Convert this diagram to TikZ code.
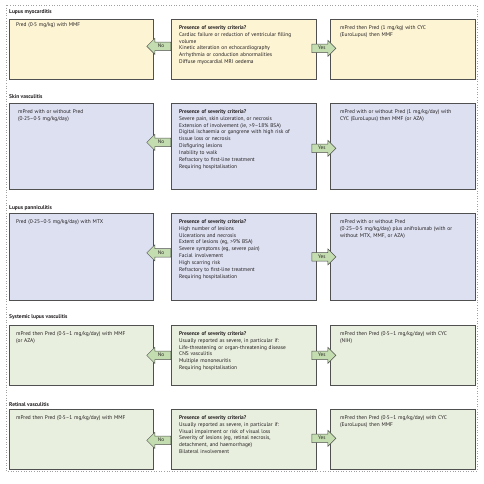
\documentclass[tikz,border=0pt]{standalone}
\usepackage{fontspec}
\setmainfont{PT Sans}
\usetikzlibrary{shapes.arrows,calc}
\definecolor{cyellow}{HTML}{FDF4D4}
\definecolor{clav}{HTML}{DDE0F1}
\definecolor{cgreen}{HTML}{E9EFDF}
\definecolor{carrow}{HTML}{C4DDB0}
\definecolor{cborder}{HTML}{505050}
\definecolor{ctext}{HTML}{231F20}
\definecolor{cframe}{HTML}{A0A0A0}
\begin{document}
\begin{tikzpicture}[x=1pt,y=-1pt,
  box/.style={draw=cborder, line width=0.7pt, minimum width=#1, anchor=north west, inner sep=0pt},
  txt/.style={anchor=north west, inner sep=0pt, align=left, text width=143pt, text=ctext,
    font=\fontsize{5.4}{6.9}\selectfont},
  ttl/.style={anchor=base west, inner sep=0pt, text=ctext, font=\fontsize{5.5}{6.9}\selectfont\bfseries},
  arr/.style={single arrow, draw=cborder, fill=carrow, line width=0.5pt, minimum height=24pt,
    minimum width=16pt, single arrow head extend=3.5pt, inner sep=1.3pt, text=ctext,
    text height=3.9pt, text depth=1.2pt, font=\fontsize{5.2}{6}\selectfont, anchor=tail},
  noarr/.style={arr, shape border rotate=180},
  yesarr/.style={arr}]
\useasboundingbox (0,0) rectangle (484,483);
\draw[cframe, dotted, line width=0.6pt] (6,5) rectangle (477,471);

% ---- Section 1
\node[ttl] (t1) at (9,13) {Lupus myocarditis};
\node[box=144pt, fill=cyellow, minimum height=60pt] (L1) at (9,19) {};
\node[box=145pt, fill=cyellow, minimum height=60pt] (M1) at (171,19) {};
\node[box=145pt, fill=cyellow, minimum height=60pt] (R1) at (330,19) {};
\node[txt] (lt1) at ([shift={(7,2.5)}]L1.north west) {\strut Pred (0·5 mg/kg) with MMF};
\node[txt] (mt1) at ([shift={(8,5.2)}]M1.north west) {\strut\textbf{Presence of severity criteria?}\\
Cardiac failure or reduction of ventricular filling\\ volume\\ Kinetic alteration on echocardiography\\
Arrhythmia or conduction abnormalities\\ Diffuse myocardial MRI oedema};
\node[txt] (rt1) at ([shift={(10,5.2)}]R1.north west) {\strut mPred then Pred (1 mg/kg) with CYC\\ (EuroLupus) then MMF};
\node[noarr] (n1) at ([yshift=3pt]M1.west) {No};
\node[yesarr] (y1) at ([xshift=-5pt,yshift=1pt]M1.east) {Yes};

% ---- Section 2
\node[ttl] (t2) at (9,98) {Skin vasculitis};
\node[box=144pt, fill=clav, minimum height=86pt] (L2) at (9,103) {};
\node[box=145pt, fill=clav, minimum height=86pt] (M2) at (171,103) {};
\node[box=145pt, fill=clav, minimum height=86pt] (R2) at (330,103) {};
\node[txt] (lt2) at ([shift={(9,5.2)}]L2.north west) {\strut mPred with or without Pred\\ (0·25–0·5 mg/kg/day)};
\node[txt] (mt2) at ([shift={(8,5.2)}]M2.north west) {\strut\textbf{Presence of severity criteria?}\\
Severe pain, skin ulceration, or necrosis\\ Extension of involvement (ie, >9–18\% BSA)\\
Digital ischaemia or gangrene with high risk of\\ tissue loss or necrosis\\ Disfiguring lesions\\
Inability to walk\\ Refractory to first-line treatment\\ Requiring hospitalisation};
\node[txt] (rt2) at ([shift={(10,5.2)}]R2.north west) {\strut mPred with or without Pred (1 mg/kg/day) with\\ CYC (EuroLupus) then MMF (or AZA)};
\node[noarr] (n2) at ([yshift=4pt]M2.west) {No};
\node[yesarr] (y2) at ([xshift=-5pt,yshift=-2pt]M2.east) {Yes};

% ---- Section 3
\node[ttl] (t3) at (9,209) {Lupus panniculitis};
\node[box=144pt, fill=clav, minimum height=87pt] (L3) at (9,213) {};
\node[box=145pt, fill=clav, minimum height=87pt] (M3) at (171,213) {};
\node[box=145pt, fill=clav, minimum height=87pt] (R3) at (330,213) {};
\node[txt] (lt3) at ([shift={(7,5.2)}]L3.north west) {\strut Pred (0·25–0·5 mg/kg/day) with MTX};
\node[txt] (mt3) at ([shift={(8,5.2)}]M3.north west) {\strut\textbf{Presence of severity criteria?}\\
High number of lesions\\ Ulcerations and necrosis\\ Extent of lesions (eg, >9\% BSA)\\
Severe symptoms (eg, severe pain)\\ Facial involvement\\ High scarring risk\\
Refractory to first-line treatment\\ Requiring hospitalisation};
\node[txt] (rt3) at ([shift={(10,5.2)}]R3.north west) {\strut mPred with or without Pred\\ (0·25–0·5 mg/kg/day) plus anifrolumab (with or\\ without MTX, MMF, or AZA)};
\node[noarr] (n3) at ([yshift=4pt]M3.west) {No};
\node[yesarr] (y3) at ([xshift=-5pt]M3.east) {Yes};

% ---- Section 4
\node[ttl] (t4) at (9,318) {Systemic lupus vasculitis};
\node[box=144pt, fill=cgreen, minimum height=60pt] (L4) at (9,325) {};
\node[box=145pt, fill=cgreen, minimum height=60pt] (M4) at (171,325) {};
\node[box=145pt, fill=cgreen, minimum height=60pt] (R4) at (330,325) {};
\node[txt] (lt4) at ([shift={(7,5.2)}]L4.north west) {\strut mPred then Pred (0·5–1 mg/kg/day) with MMF\\ (or AZA)};
\node[txt] (mt4) at ([shift={(8,5.2)}]M4.north west) {\strut\textbf{Presence of severity criteria?}\\
Usually reported as severe, in particular if:\\ Life-threatening or organ-threatening disease\\
CNS vasculitis\\ Multiple mononeuritis\\ Requiring hospitalisation};
\node[txt] (rt4) at ([shift={(10,5.2)}]R4.north west) {\strut mPred then Pred (0·5–1 mg/kg/day) with CYC\\ (NIH)};
\node[noarr] (n4) at (M4.west) {No};
\node[yesarr] (y4) at ([xshift=-5pt]M4.east) {Yes};

% ---- Section 5
\node[ttl] (t5) at (9,406) {Retinal vasculitis};
\node[box=144pt, fill=cgreen, minimum height=60pt] (L5) at (9,409) {};
\node[box=145pt, fill=cgreen, minimum height=60pt] (M5) at (171,409) {};
\node[box=145pt, fill=cgreen, minimum height=60pt] (R5) at (330,409) {};
\node[txt] (lt5) at ([shift={(7,5.2)}]L5.north west) {\strut mPred then Pred (0·5–1 mg/kg/day) with MMF};
\node[txt] (mt5) at ([shift={(8,5.2)}]M5.north west) {\strut\textbf{Presence of severity criteria?}\\
Usually reported as severe, in particular if:\\ Visual impairment or risk of visual loss\\
Severity of lesions (eg, retinal necrosis,\\ detachment, and haemorrhage)\\ Bilateral involvement};
\node[txt] (rt5) at ([shift={(10,5.2)}]R5.north west) {\strut mPred then Pred (0·5–1 mg/kg/day) with CYC\\ (EuroLupus) then MMF};
\node[noarr] (n5) at ([yshift=-1pt]M5.west) {No};
\node[yesarr] (y5) at ([xshift=-5pt,yshift=1pt]M5.east) {Yes};
\end{tikzpicture}
\end{document}
